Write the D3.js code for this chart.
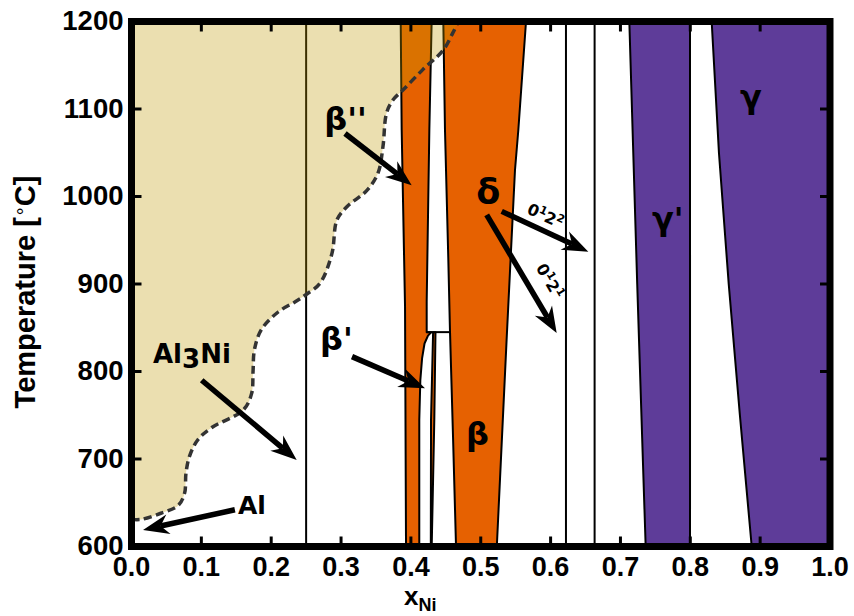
<!DOCTYPE html>
<html>
<head>
<meta charset="utf-8">
<script src="https://cdn.jsdelivr.net/npm/d3@7"></script>
<style>
  body { margin: 0; background: #fff; }
  text { font-family: "Liberation Sans", Arial, sans-serif; font-weight: bold; }
  .lbl { font-family: "DejaVu Sans", sans-serif; font-weight: bold; }
</style>
</head>
<body>
<div id="chart"></div>
<script>
var width = 854;
var height = 616;

// tick values
var xTicks = [0, 0.1, 0.2, 0.3, 0.4, 0.5, 0.6, 0.7, 0.8, 0.9, 1.0];
var yTicks = [600, 700, 800, 900, 1000, 1100, 1200];

// liquidus (dashed), [x, T]
var liquidus = [[0.0, 631], [0.014, 631], [0.042, 638], [0.067, 647], [0.076, 661], [0.078, 684],
  [0.083, 703], [0.095, 722], [0.115, 736], [0.16, 756], [0.172, 775], [0.174, 800], [0.176, 825],
  [0.186, 848], [0.21, 868], [0.235, 880], [0.25, 888], [0.27, 901], [0.287, 935], [0.294, 973],
  [0.308, 988], [0.337, 1007], [0.353, 1027], [0.36, 1057], [0.365, 1095], [0.374, 1110],
  [0.389, 1122], [0.417, 1145], [0.446, 1167], [0.46, 1187], [0.468, 1200]];

// beta'' phase
var bppLeft = [[0.3854, 1200], [0.3868, 1076], [0.3916, 874], [0.393, 600]];
var bppRight = [[0.412, 600], [0.412, 745], [0.4135, 790], [0.416, 815], [0.4195, 832],
  [0.4245, 841], [0.4295, 845], [0.4226, 845], [0.4226, 880], [0.4264, 1076], [0.4297, 1200]];
// beta' phase
var bpLeft = [[0.4285, 600], [0.4288, 745], [0.4318, 845]];
var bpRight = [[0.4298, 600], [0.4335, 745], [0.4352, 845]];
// beta phase
var bLeft = [[0.4464, 1200], [0.4488, 1076], [0.4535, 930], [0.456, 845], [0.4605, 720], [0.4646, 600]];
var bRight = [[0.523, 600], [0.537, 836], [0.549, 1030], [0.5538, 1076], [0.5648, 1200]];
var peritectic = [[0.4226, 845], [0.456, 845]];
// gamma' and gamma
var gpLeft = [[0.7127, 1200], [0.724, 900], [0.7361, 600]];
var gpRight = [[0.7996, 600], [0.7996, 1200]];
var gLeft = [[0.8306, 1200], [0.841, 1050], [0.855, 900], [0.871, 750], [0.8879, 600]];
var gRight = [[1.0, 600], [1.0, 1200]];
// line compounds
var lineCompounds = [0.25, 0.622, 0.663];

// annotations
var labels = [
  {t: "β''", x: 0.276, y: 1076, s: 32},
  {t: "β'", x: 0.2699, y: 825, s: 32},
  {t: "δ", x: 0.4935, y: 992, s: 35},
  {t: "β", x: 0.479, y: 716, s: 32},
  {t: "γ'", x: 0.745, y: 962, s: 32},
  {t: "γ", x: 0.871, y: 1101, s: 32},
  {t: "Al", x: 0.1525, y: 637, s: 25}
];
var arrows = [
  {from: [0.3057, 1072], to: [0.4011, 1013]},
  {from: [0.3157, 817], to: [0.4202, 781]},
  {from: [0.1005, 790], to: [0.2365, 699]},
  {from: [0.148, 642], to: [0.0165, 619]},
  {from: [0.530, 983], to: [0.654, 937]},
  {from: [0.5085, 979], to: [0.6087, 844]}
];

var margin = {left: 131.5, right: 24, top: 21.5, bottom: 69.5};

var x = d3.scaleLinear().domain([0, 1]).range([margin.left, width - margin.right]);
var y = d3.scaleLinear().domain([600, 1200]).range([height - margin.bottom, margin.top]);

var svg = d3.select("#chart").append("svg")
  .attr("width", width).attr("height", height);

var defs = svg.append("defs");
defs.append("clipPath").attr("id", "plotclip")
  .append("rect")
  .attr("x", x(0)).attr("y", y(1200))
  .attr("width", x(1) - x(0)).attr("height", y(600) - y(1200));

var line = d3.line().x(function (d) { return x(d[0]); }).y(function (d) { return y(d[1]); });

var plot = svg.append("g").attr("clip-path", "url(#plotclip)");

function region(left, right, color) {
  var pts = left.concat(right);
  plot.append("path")
    .attr("d", line(pts) + "Z")
    .attr("fill", color)
    .attr("stroke", "#000")
    .attr("stroke-width", 2)
    .attr("stroke-linejoin", "round");
}

var orange = "#e66101";
var purple = "#5e3c99";

region(bppLeft, bppRight, orange);
region(bpLeft, bpRight.slice().reverse(), orange);
region(bLeft, bRight, orange);
region(gpLeft, gpRight, purple);
region(gLeft, gRight, purple);

plot.append("path").attr("d", line(peritectic)).attr("stroke", "#000").attr("stroke-width", 2);

lineCompounds.forEach(function (c) {
  plot.append("line")
    .attr("x1", x(c)).attr("x2", x(c))
    .attr("y1", y(600)).attr("y2", y(1200))
    .attr("stroke", "#000").attr("stroke-width", 2);
});

// liquid overlay
var liqLine = d3.line().curve(d3.curveCatmullRom)
  .x(function (d) { return x(d[0]); }).y(function (d) { return y(d[1]); });
plot.append("path")
  .attr("d", liqLine(liquidus) + "L" + x(0) + "," + y(1200) + "Z")
  .attr("fill", "rgb(190,151,0)")
  .attr("fill-opacity", 0.31)
  .attr("stroke", "none");

plot.append("path")
  .attr("d", liqLine(liquidus))
  .attr("fill", "none")
  .attr("stroke", "#333")
  .attr("stroke-width", 3.5)
  .attr("stroke-dasharray", "8,4.5");

// frame
svg.append("rect")
  .attr("x", x(0)).attr("y", y(1200))
  .attr("width", x(1) - x(0)).attr("height", y(600) - y(1200))
  .attr("fill", "none").attr("stroke", "#000").attr("stroke-width", 7);

// ticks, inward, on all four sides
var tickG = svg.append("g");
xTicks.forEach(function (t) {
  tickG.append("line").attr("x1", x(t)).attr("x2", x(t))
    .attr("y1", y(600)).attr("y2", y(600) - 10)
    .attr("stroke", "#000").attr("stroke-width", 3);
  tickG.append("line").attr("x1", x(t)).attr("x2", x(t))
    .attr("y1", y(1200)).attr("y2", y(1200) + 10)
    .attr("stroke", "#000").attr("stroke-width", 3);
  svg.append("text")
    .attr("x", x(t)).attr("y", y(600) + 29.5)
    .attr("text-anchor", "middle")
    .style("font-size", "27px")
    .text(d3.format(".1f")(t));
});
yTicks.forEach(function (t) {
  tickG.append("line").attr("x1", x(0)).attr("x2", x(0) + 10)
    .attr("y1", y(t)).attr("y2", y(t))
    .attr("stroke", "#000").attr("stroke-width", 3);
  tickG.append("line").attr("x1", x(1)).attr("x2", x(1) - 10)
    .attr("y1", y(t)).attr("y2", y(t))
    .attr("stroke", "#000").attr("stroke-width", 3);
  svg.append("text")
    .attr("x", x(0) - 8).attr("y", y(t) + 8.5)
    .attr("text-anchor", "end")
    .style("font-size", "27.5px")
    .text(t);
});

// axis titles
var yt = svg.append("text")
  .attr("transform", "translate(35,292) rotate(-90)")
  .attr("text-anchor", "middle")
  .style("font-size", "29px");
yt.append("tspan").text("Temperature [");
yt.append("tspan").attr("dy", -10).style("font-size", "18px").style("font-weight", "normal").text("∘");
yt.append("tspan").attr("dy", 10).text("C]");

var xt = svg.append("text")
  .attr("x", 404).attr("y", 605)
  .style("font-size", "26px");
xt.append("tspan").text("x");
xt.append("tspan").attr("dy", 6).style("font-size", "18px").text("Ni");

// phase labels
labels.forEach(function (l) {
  svg.append("text").attr("class", "lbl")
    .attr("x", x(l.x)).attr("y", y(l.y))
    .style("font-size", l.s + "px")
    .text(l.t);
});
var al3 = svg.append("text").attr("class", "lbl")
  .attr("x", x(0.0308)).attr("y", y(810))
  .style("font-size", "26px");
al3.append("tspan").text("Al");
al3.append("tspan").attr("dy", 5).text("3");
al3.append("tspan").attr("dy", -5).text("Ni");

// arrows
arrows.forEach(function (a) {
  var x1 = x(a.from[0]), y1 = y(a.from[1]), x2 = x(a.to[0]), y2 = y(a.to[1]);
  var ang = Math.atan2(y2 - y1, x2 - x1);
  var c = Math.cos(ang), s = Math.sin(ang);
  var hl = 24, hw = 10;
  var bx = x2 - hl * c, by = y2 - hl * s;
  svg.append("line")
    .attr("x1", x1).attr("y1", y1).attr("x2", bx + 6 * c).attr("y2", by + 6 * s)
    .attr("stroke", "#000").attr("stroke-width", 5.5);
  var nx = -s, ny = c;
  var notch = 6;
  var pts = [
    [x2, y2],
    [bx + hw * nx - 2 * c, by + hw * ny - 2 * s],
    [bx + notch * c, by + notch * s],
    [bx - hw * nx - 2 * c, by - hw * ny - 2 * s]
  ];
  svg.append("path")
    .attr("d", "M" + pts.map(function (p) { return p[0] + "," + p[1]; }).join("L") + "Z")
    .attr("fill", "#000");
});

// small labels along the delta arrows
function supLabel(px, py, angle, a, b, cc, d) {
  var t = svg.append("text").attr("class", "lbl")
    .attr("transform", "translate(" + px + "," + py + ") rotate(" + angle + ")")
    .attr("text-anchor", "middle")
    .style("font-size", "16px");
  t.append("tspan").text(a);
  t.append("tspan").attr("dy", -6).style("font-size", "11px").text(b);
  t.append("tspan").attr("dy", 6).text(cc);
  t.append("tspan").attr("dy", -6).style("font-size", "11px").text(d);
}
supLabel(543, 221, 24.8, "0", "1", "2", "2");
supLabel(545, 284, 59.4, "0", "1", "2", "1");
</script>
</body>
</html>
